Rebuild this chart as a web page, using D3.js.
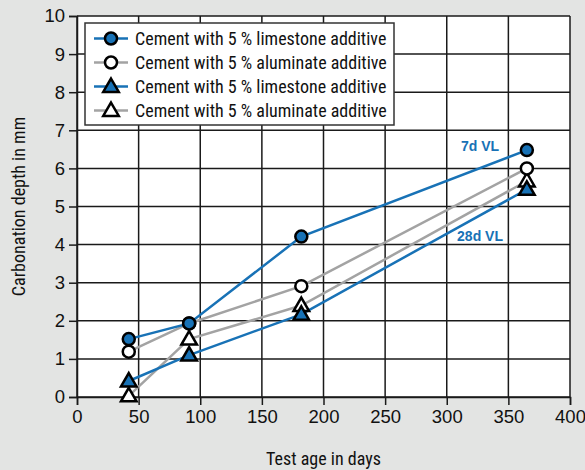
<!DOCTYPE html>
<html>
<head>
<meta charset="utf-8">
<script src="https://cdn.jsdelivr.net/npm/d3@7"></script>
<style>
  body { margin: 0; background: #e3e4e3; }
  svg { display: block; font-family: "Liberation Sans Narrow", "Roboto Condensed", "Liberation Sans", sans-serif; }
</style>
</head>
<body>
<svg class="carb" width="585" height="470"></svg>
<script>
// test ages (days)
var ages = [42, 91, 182, 365];

// carbonation depth in mm
var limeCircle = [1.52, 1.93, 4.21, 6.48];
var aluCircle = [1.19, 1.93, 2.91, 6.0];
var limeTri = [0.42, 1.1, 2.17, 5.45];
var aluTri = [0.03, 1.52, 2.4, 5.67];

var seriesNames = [
  "Cement with 5 % limestone additive",
  "Cement with 5 % aluminate additive",
  "Cement with 5 % limestone additive",
  "Cement with 5 % aluminate additive"
];

var xTicks = [0, 50, 100, 150, 200, 250, 300, 350, 400];
var yTicks = [0, 1, 2, 3, 4, 5, 6, 7, 8, 9, 10];

var blue = "#1872b6", grey = "#a3a3a3";

var series = [
  {name: seriesNames[0], values: limeCircle, line: blue, fill: blue, shape: "circle"},
  {name: seriesNames[1], values: aluCircle, line: grey, fill: "#fff", shape: "circle"},
  {name: seriesNames[2], values: limeTri, line: blue, fill: blue, shape: "triangle"},
  {name: seriesNames[3], values: aluTri, line: grey, fill: "#fff", shape: "triangle"}
];

var svg = d3.select("svg.carb"),
    margin = {top: 16, right: 15, bottom: 73, left: 77},
    width = 585 - margin.left - margin.right,
    height = 470 - margin.top - margin.bottom,
    g = svg.append("g").attr("transform", "translate(" + margin.left + "," + margin.top + ")");

var x = d3.scaleLinear().domain([0, 400]).range([0, width]),
    y = d3.scaleLinear().domain([0, 10]).range([height, 0]);

g.append("rect")
    .attr("width", width)
    .attr("height", height)
    .attr("fill", "#fff");

// grid
g.selectAll(".gx")
    .data(xTicks)
    .enter().append("line")
    .attr("x1", function(d) { return x(d); })
    .attr("x2", function(d) { return x(d); })
    .attr("y1", 0)
    .attr("y2", height)
    .style("stroke", "#1a1a1a")
    .style("stroke-width", 1.5);

g.selectAll(".gy")
    .data(yTicks)
    .enter().append("line")
    .attr("x1", 0)
    .attr("x2", width)
    .attr("y1", function(d) { return y(d); })
    .attr("y2", function(d) { return y(d); })
    .style("stroke", "#1a1a1a")
    .style("stroke-width", 1.5);

// axes
var xAxis = g.append("g")
    .attr("transform", "translate(0," + height + ")")
    .call(d3.axisBottom(x).tickValues(xTicks).tickSize(8).tickPadding(5));

var yAxis = g.append("g")
    .call(d3.axisLeft(y).tickValues(yTicks).tickSize(8).tickPadding(4));

[xAxis, yAxis].forEach(function(a) {
  a.select(".domain").style("stroke", "#1a1a1a").style("stroke-width", 1.5);
  a.selectAll(".tick line").style("stroke", "#1a1a1a").style("stroke-width", 1.5);
  a.selectAll("text")
      .style("font-size", "18.5px")
      .style("font-family", "\"Liberation Sans Narrow\", sans-serif")
      .attr("fill", "#111");
});

svg.append("text")
    .attr("x", margin.left + width / 2)
    .attr("y", 465)
    .attr("text-anchor", "middle")
    .style("font-size", "18px")
    .attr("fill", "#111")
    .text("Test age in days");

svg.append("text")
    .attr("transform", "translate(25," + (margin.top + height / 2) + ") rotate(-90)")
    .attr("text-anchor", "middle")
    .style("font-size", "18px")
    .attr("fill", "#111")
    .text("Carbonation depth in mm");

var line = d3.line()
    .x(function(d, i) { return x(ages[i]); })
    .y(function(d) { return y(d); });

var triangle = d3.symbol().type(d3.symbolTriangle).size(105);

function drawMarker(sel, s) {
  if (s.shape === "circle") {
    sel.append("circle").attr("r", 6)
        .attr("fill", s.fill).attr("stroke", "#000").attr("stroke-width", 2.5);
  } else {
    sel.append("path").attr("d", triangle)
        .attr("transform", "translate(0,1)")
        .attr("fill", s.fill).attr("stroke", "#000").attr("stroke-width", 2.5)
        .attr("stroke-linejoin", "miter");
  }
}

// lines first, then markers
var order = [3, 2, 1, 0];
order.forEach(function(k) {
  var s = series[k];
  g.append("path")
      .datum(s.values)
      .attr("d", line)
      .attr("fill", "none")
      .attr("stroke", s.line)
      .attr("stroke-width", 2.5);
});
order.forEach(function(k) {
  var s = series[k];
  s.values.forEach(function(v, i) {
    var m = g.append("g").attr("transform", "translate(" + x(ages[i]) + "," + y(v) + ")");
    drawMarker(m, s);
  });
});

// annotations
g.append("text")
    .attr("x", x(327))
    .attr("y", y(6.46))
    .attr("text-anchor", "middle")
    .style("font-size", "14px")
    .style("font-weight", "bold")
    .style("font-family", "\"Liberation Sans Narrow\", \"Liberation Sans\", sans-serif")
    .attr("fill", blue)
    .text("7d VL");

g.append("text")
    .attr("x", x(327))
    .attr("y", y(4.1))
    .attr("text-anchor", "middle")
    .style("font-size", "14px")
    .style("font-weight", "bold")
    .style("font-family", "\"Liberation Sans Narrow\", \"Liberation Sans\", sans-serif")
    .attr("fill", blue)
    .text("28d VL");

// legend
var legend = svg.append("g").attr("transform", "translate(85,23)");
legend.append("rect")
    .attr("width", 309)
    .attr("height", 102)
    .attr("fill", "#fff")
    .attr("stroke", "#333")
    .attr("stroke-width", 1.5);

var item = legend.selectAll(".item")
    .data(series)
    .enter().append("g")
    .attr("transform", function(d, i) { return "translate(0," + (15.5 + i * 24) + ")"; });

item.append("line")
    .attr("x1", 9).attr("x2", 43)
    .attr("stroke", function(d) { return d.line; })
    .attr("stroke-width", 2.5);

item.each(function(d) {
  var m = d3.select(this).append("g").attr("transform", "translate(26,0)");
  drawMarker(m, d);
});

item.append("text")
    .attr("x", 50)
    .attr("dy", "0.35em")
    .style("font-size", "18px")
    .attr("fill", "#111")
    .text(function(d) { return d.name; });
</script>
</body>
</html>
